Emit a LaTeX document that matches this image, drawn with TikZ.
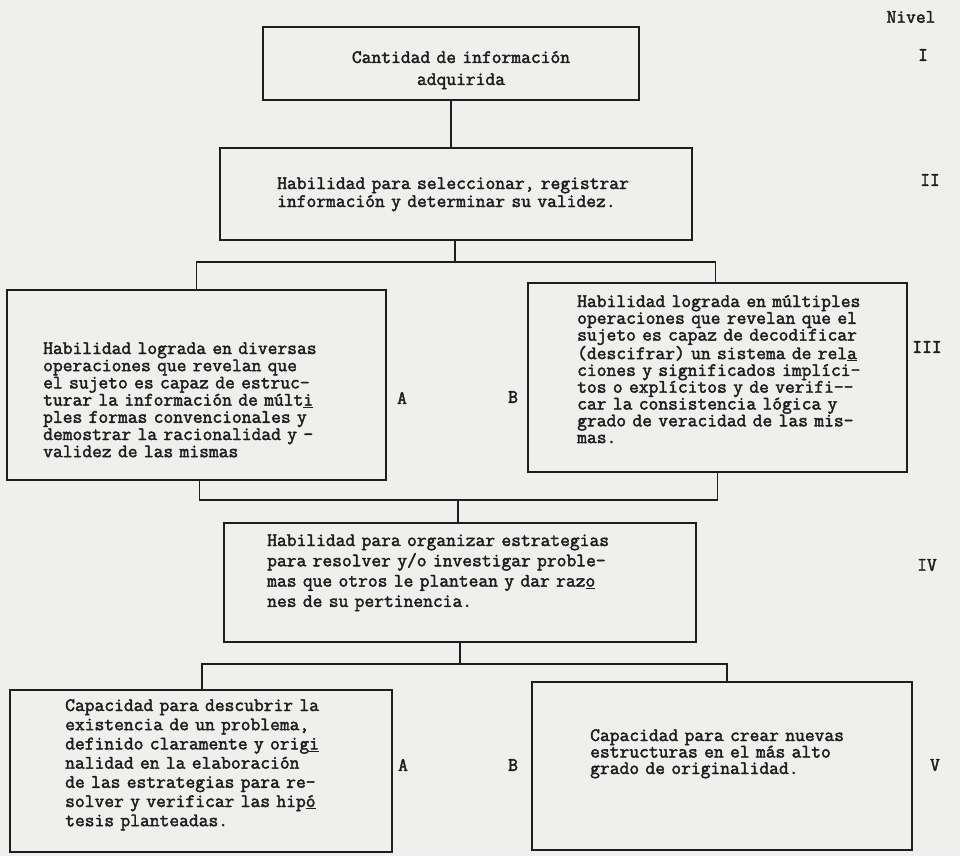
\documentclass[tikz,border=0pt]{standalone}
\usepackage{fontspec}
\newfontfamily\typew{Latin Modern Mono}[FakeBold=2.2]
\definecolor{paper}{RGB}{239,239,237}
\definecolor{ink}{RGB}{30,30,30}
\newcommand{\tw}[1]{\typew\fontsize{19}{#1}\selectfont}
\begin{document}
\begin{tikzpicture}[x=1pt,y=-1pt,
  box/.style={draw=ink, line width=1.6pt, inner sep=0pt},
  txt/.style={text=ink, font=\tw{17.2}, inner sep=0pt, anchor=base west, align=left, text width=360pt},
  lab/.style={text=ink, font=\tw{17}, inner sep=0pt},
  conn/.style={draw=ink, line width=1.6pt}]
\useasboundingbox (0,0) rectangle (960,856);
\fill[paper] (0,0) rectangle (960,856);

% boxes
\node[box, minimum width=376pt, minimum height=73pt] (I) at (451,63.5) {};
\node[box, minimum width=472pt, minimum height=92pt] (II) at (456,194) {};
\node[box, minimum width=379pt, minimum height=190pt] (IIIA) at (196.5,385) {};
\node[box, minimum width=379pt, minimum height=189pt] (IIIB) at (717.5,377.5) {};
\node[box, minimum width=472pt, minimum height=119pt] (IV) at (460,582.5) {};
\node[box, minimum width=382pt, minimum height=162pt] (VA) at (201,771) {};
\node[box, minimum width=380pt, minimum height=168pt] (VB) at (722,766) {};

% texts
\node[txt, align=center, text width=330pt, anchor=base, font=\tw{22}] (tI) at (461,63)
  {Cantidad de información\\adquirida};
\node[txt, font=\tw{18}, text width=420pt] (tII) at (277,189)
  {Habilidad para seleccionar, registrar\\información y determinar su validez.};
\node[txt] (tIIIA) at (43,354)
  {Habilidad lograda en diversas\\
   operaciones que revelan que\\
   el sujeto es capaz de estruc-\\
   turar la información de múlt\underline{i}\\
   ples formas convencionales y\\
   demostrar la racionalidad y -\\
   validez de las mismas};
\node[txt, font=\tw{16.8}] (tIIIB) at (577,307)
  {Habilidad lograda en múltiples\\
   operaciones que revelan que el\\
   sujeto es capaz de decodificar\\
   (descifrar) un sistema de rel\underline{a}\\
   ciones y significados implíci-\\
   tos o explícitos y de verifi-{}-\\
   car la consistencia lógica y\\
   grado de veracidad de las mis-\\
   mas.};
\node[txt, font=\tw{20.3}, text width=420pt] (tIV) at (267,546)
  {Habilidad para organizar estrategias\\
   para resolver y/o investigar proble-\\
   mas que otros le plantean y dar raz\underline{o}\\
   nes de su pertinencia.};
\node[txt, font=\tw{19.2}] (tVA) at (65,711)
  {Capacidad para descubrir la\\
   existencia de un problema,\\
   definido claramente y orig\underline{i}\\
   nalidad en la elaboración\\
   de las estrategias para re-\\
   solver y verificar las hip\underline{ó}\\
   tesis planteadas.};
\node[txt, font=\tw{16.5}] (tVB) at (590,741)
  {Capacidad para crear nuevas\\
   estructuras en el más alto\\
   grado de originalidad.};

% level labels
\node[lab] (nivel) at (911,17) {Nivel};
\node[lab] (lI) at (923,55) {I};
\node[lab] (lII) at (930,180) {II};
\node[lab] (lIII) at (927,347) {III};
\node[lab] (lIV) at (927,565) {IV};
\node[lab] (lV) at (935,765) {V};
\node[lab] (a1) at (402,398) {A};
\node[lab] (b1) at (513,397) {B};
\node[lab] (a2) at (403,765) {A};
\node[lab] (b2) at (513,765) {B};

% junction coordinates
\coordinate (j1) at (455,262);
\coordinate (j2) at (458,500);
\coordinate (j3) at (460,664);

% connectors
\draw[conn] (I.south) -- (I.south |- II.north);
\draw[conn] (II.south -| j1) -- (j1);
\draw[conn] (IIIA.north) |- (j1) -| ([xshift=-2pt]IIIB.north);
\draw[conn] ([xshift=3pt]IIIA.south) |- (j2) -| (IIIB.south);
\draw[conn] (j2) -- (j2 |- IV.north);
\draw[conn] (IV.south -| j3) -- (j3);
\draw[conn] ([xshift=1pt]VA.north) |- (j3) -| ([xshift=5pt]VB.north);
\end{tikzpicture}
\end{document}
